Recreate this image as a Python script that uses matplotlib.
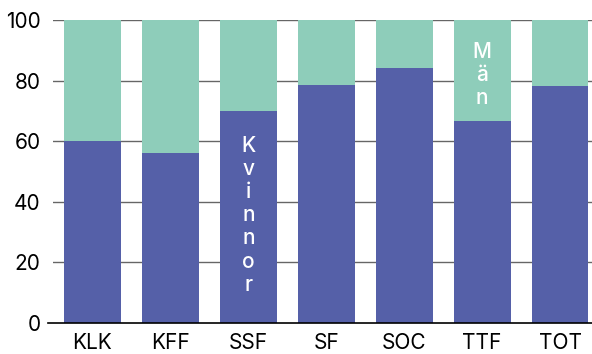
import numpy as np
import matplotlib.pyplot as plt

plt.rcParams['font.family'] = ['Inter', 'DejaVu Sans']

# Data
categories = ["KLK", "KFF", "SSF", "SF", "SOC", "TTF", "TOT"]
kvinnor = [60, 56, 70, 78.5, 84, 66.7, 78.3]
man = [100 - v for v in kvinnor]

purple = "#5560a8"
teal = "#8ecdba"

fig = plt.figure(figsize=(5.92, 3.54), dpi=100)
ax = fig.add_axes([0.0895, 0.0876, 0.9105, 0.856])

x = np.arange(len(categories))
ax.bar(x, kvinnor, width=0.73, color=purple, zorder=2)
ax.bar(x, man, width=0.73, bottom=kvinnor, color=teal, zorder=2)

# Gridlines
for yv in [20, 40, 60, 80, 100]:
    ax.axhline(yv, color="#666666", linewidth=1, zorder=1)
ax.axhline(0, xmin=-0.01, color="black", linewidth=1.2, zorder=3, clip_on=False)

# In-bar labels (stacked letters)
ax.text(2, 35.6, "\n".join("Kvinnor"), color="white", ha="center", va="center",
        fontsize=15, fontweight="medium", linespacing=1.2, zorder=4)
ax.text(5, 81.8, "\n".join("Män"), color="white", ha="center", va="center",
        fontsize=15, fontweight="medium", linespacing=1.2, zorder=4)

ax.set_xlim(-0.507, 6.41)
ax.set_ylim(0, 100)
ax.set_xticks(x)
ax.set_xticklabels(categories)
ax.set_yticks([0, 20, 40, 60, 80, 100])
ax.tick_params(axis="both", length=0, labelsize=15, colors="black")
ax.tick_params(axis="y", pad=9)
ax.tick_params(axis="x", pad=7)
for s in ax.spines.values():
    s.set_visible(False)

fig.savefig("out.png", dpi=100)
